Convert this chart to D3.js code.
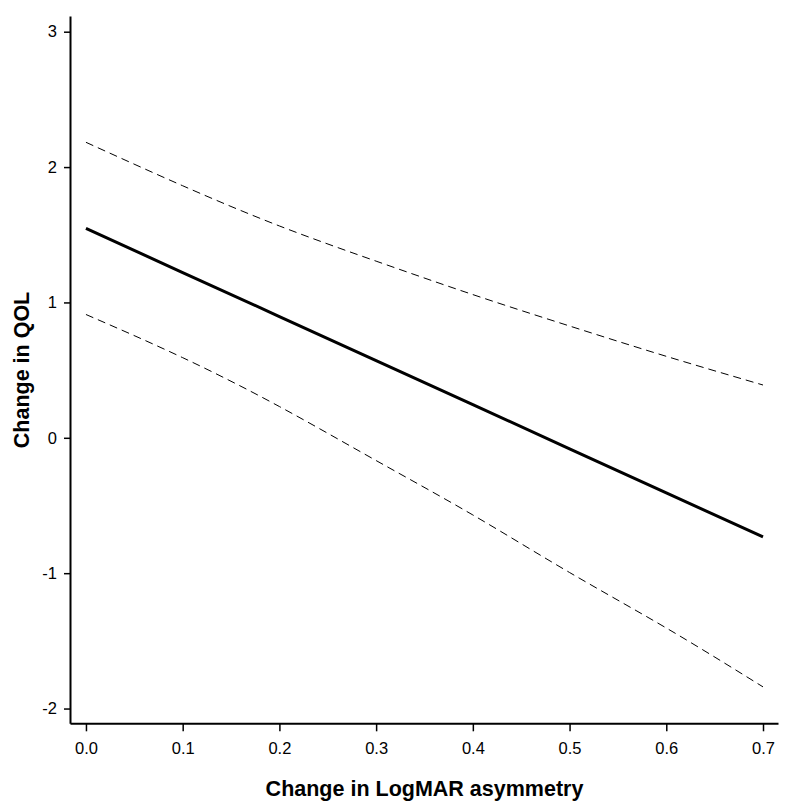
<!DOCTYPE html>
<html>
<head>
<meta charset="utf-8">
<script src="https://cdn.jsdelivr.net/npm/d3@7"></script>
<style>
  html, body { margin: 0; padding: 0; background: #fff; }
  svg { display: block; font-family: "Liberation Sans", Arial, Helvetica, sans-serif; }
</style>
</head>
<body>
<svg id="chart" width="800" height="812"></svg>
<script>
// Data
const xValues   = [0.0, 0.1, 0.2, 0.3, 0.4, 0.5, 0.6, 0.7];
const fitValues = [1.547, 1.221, 0.896, 0.570, 0.245, -0.081, -0.407, -0.732];
const upperCI   = [2.183, 1.862, 1.565, 1.305, 1.058, 0.826, 0.602, 0.39];
const lowerCI   = [0.911, 0.592, 0.231, -0.168, -0.57, -0.995, -1.405, -1.84];
const xTicks = [0, 0.1, 0.2, 0.3, 0.4, 0.5, 0.6, 0.7];
const yTicks = [-2, -1, 0, 1, 2, 3];
const xTitle = "Change in LogMAR asymmetry";
const yTitle = "Change in QOL";

const svg = d3.select("#chart");

const x = d3.scaleLinear().domain([-0.0165, 0.7155]).range([70, 778]);
const y = d3.scaleLinear().domain([-2.109, 3.116]).range([723.3, 16]);

// Axes
const xAxis = d3.axisBottom(x).tickValues(xTicks).tickFormat(d => d.toFixed(1))
  .tickSizeInner(8).tickSizeOuter(0).tickPadding(6);
const yAxis = d3.axisLeft(y).tickValues(yTicks).tickFormat(d => String(d))
  .tickSizeInner(6).tickSizeOuter(0).tickPadding(7);

const gx = svg.append("g").attr("transform", "translate(0,723.3)").call(xAxis);
const gy = svg.append("g").attr("transform", "translate(70,0)").call(yAxis);

[gx, gy].forEach(g => {
  g.attr("font-size", null);
  g.select(".domain").attr("stroke", "#000").attr("stroke-width", 2);
  g.selectAll(".tick line").attr("stroke", "#000").attr("stroke-width", 1.5);
  g.selectAll(".tick text").attr("fill", "#000").style("font-size", "16.5px")
    .style("font-family", "'Liberation Sans', Arial, sans-serif");
});
gx.selectAll(".tick text").attr("dy", "1em");

// Lines
const pts = arr => xValues.map((v, i) => [v, arr[i]]);
const line = d3.line().x(d => x(d[0])).y(d => y(d[1]));
const curved = d3.line().x(d => x(d[0])).y(d => y(d[1])).curve(d3.curveNatural);

svg.append("path").datum(pts(upperCI)).attr("d", curved)
  .attr("fill", "none").attr("stroke", "#000").attr("stroke-width", 1)
  .attr("stroke-dasharray", "8,5");
svg.append("path").datum(pts(lowerCI)).attr("d", curved)
  .attr("fill", "none").attr("stroke", "#000").attr("stroke-width", 1)
  .attr("stroke-dasharray", "8,5");
svg.append("path").datum(pts(fitValues)).attr("d", line)
  .attr("fill", "none").attr("stroke", "#000").attr("stroke-width", 3);

// Titles
svg.append("text").attr("x", 424.5).attr("y", 796)
  .attr("text-anchor", "middle").style("font-size", "21.5px").style("font-weight", "bold")
  .text(xTitle);
svg.append("text").attr("transform", "translate(28.5,370) rotate(-90)")
  .attr("text-anchor", "middle").style("font-size", "21.5px").style("font-weight", "bold")
  .text(yTitle);
</script>
</body>
</html>
